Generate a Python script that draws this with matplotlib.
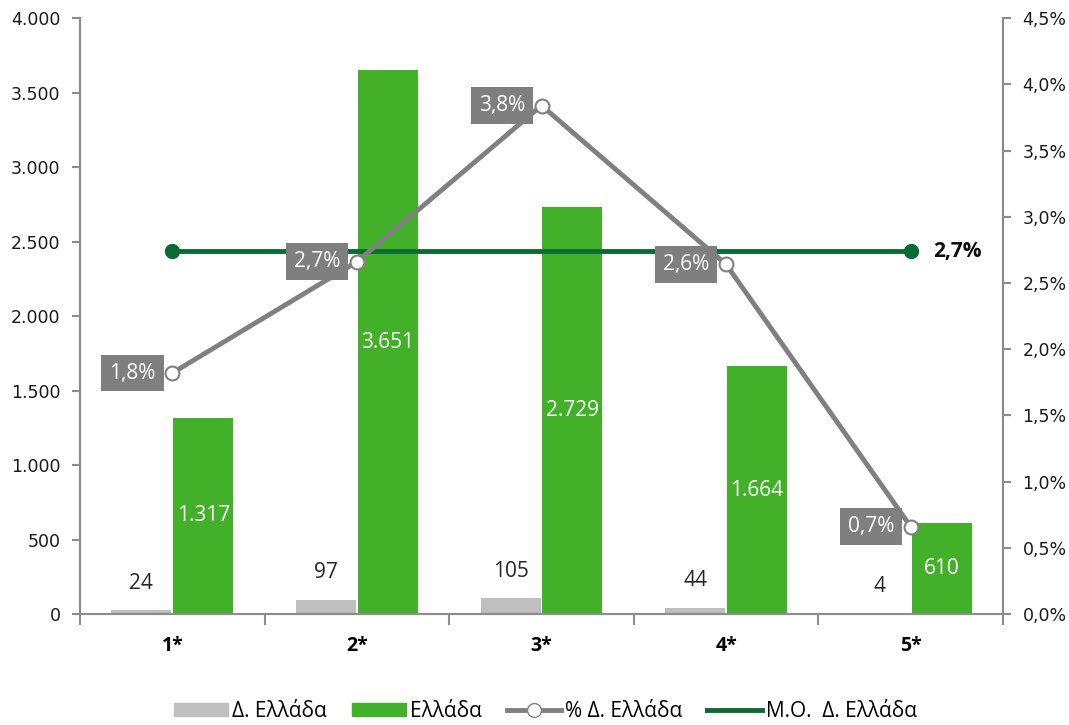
import matplotlib.pyplot as plt
import numpy as np
from matplotlib.patches import Patch
from matplotlib.lines import Line2D

categories = ["1*", "2*", "3*", "4*", "5*"]
d_ellada = [24, 97, 105, 44, 4]
ellada = [1317, 3651, 2729, 1664, 610]
pct_d_ellada = [1.82, 2.66, 3.84, 2.64, 0.66]
avg_pct = 2.74

GRAY_BAR = "#bfbfbf"
GREEN_BAR = "#43b02a"
LINE_GRAY = "#808080"
DARK_GREEN = "#0a6b32"
AXIS_GRAY = "#8c8c8c"

label_font = ["Open Sans", "DejaVu Sans"]
plt.rcParams["font.family"] = ["DejaVu Sans"]


def thousands(v):
    return f"{v:,.0f}".replace(",", ".")


def pct(v):
    return f"{v:.1f}%".replace(".", ",")


fig = plt.figure(figsize=(10.69, 7.25), dpi=100)
ax = fig.add_axes([0.0748, 0.153, 0.8635, 0.822])
ax2 = ax.twinx()

x = np.arange(len(categories))
w = 0.325
b1 = ax.bar(x - w / 2 - 0.005, d_ellada, w, color=GRAY_BAR, zorder=2)
b2 = ax.bar(x + w / 2 + 0.005, ellada, w, color=GREEN_BAR, zorder=2)

ax.set_xlim(-0.5, len(categories) - 0.5)
ax.set_ylim(0, 4000)
ax.set_yticks(np.arange(0, 4001, 500))
ax.set_yticklabels([thousands(v) for v in np.arange(0, 4001, 500)])
ax2.set_ylim(0, 4.5)
ax2.set_yticks(np.arange(0, 4.51, 0.5))
ax2.set_yticklabels([pct(v) for v in np.arange(0, 4.51, 0.5)])

for a in (ax, ax2):
    a.spines["top"].set_visible(False)
    for s in ("left", "right", "bottom"):
        a.spines[s].set_color(AXIS_GRAY)
        a.spines[s].set_linewidth(1.5)
    a.tick_params(axis="y", colors=AXIS_GRAY, labelcolor="#1a1a1a",
                  labelsize=12.5, length=6, width=1.5, pad=8)

ax.set_xticks(x)
ax.set_xticklabels(categories, fontsize=14, fontweight="bold", family=label_font)
ax.tick_params(axis="x", length=0, pad=16)
ax.set_xticks(np.arange(-0.5, len(categories), 1), minor=True)
ax.tick_params(axis="x", which="minor", length=8, width=1.5, color=AXIS_GRAY)

# bar labels
for rect, v in zip(b1, d_ellada):
    ax.annotate(str(v), (rect.get_x() + rect.get_width() / 2, rect.get_height()),
                xytext=(0, 12), textcoords="offset points", ha="center", va="bottom",
                fontsize=15, color="#262626", family=label_font)
for rect, v in zip(b2, ellada):
    ax.text(rect.get_x() + rect.get_width() / 2, rect.get_height() / 2, thousands(v),
            ha="center", va="center", fontsize=15, color="white", family=label_font)

# lines
ax2.plot(x, pct_d_ellada, color=LINE_GRAY, lw=3.5, marker="o", ms=10,
         mfc="white", mec=LINE_GRAY, mew=1.5, zorder=4)
ax2.plot([x[0], x[-1]], [avg_pct, avg_pct], color=DARK_GREEN, lw=3.5,
         marker="o", ms=10, mfc=DARK_GREEN, mec=DARK_GREEN, zorder=3)

for xi, v in zip(x, pct_d_ellada):
    ax2.annotate(pct(v), (xi, v), xytext=(-12, 0), textcoords="offset points",
                 ha="right", va="center", fontsize=15, color="white", family=label_font,
                 bbox=dict(boxstyle="square,pad=0.38", fc="#7f7f7f", ec="none"), zorder=5)
ax2.annotate(pct(avg_pct), (x[-1], avg_pct), xytext=(16, 0), textcoords="offset points",
             ha="left", va="center", fontsize=15, fontweight="bold", color="#0d0d0d",
             family=label_font)

ax2.set_zorder(ax.get_zorder() + 1)
ax2.patch.set_visible(False)

handles = [
    Patch(color=GRAY_BAR),
    Patch(color=GREEN_BAR),
    Line2D([], [], color=LINE_GRAY, lw=3.5, marker="o", ms=10, mfc="white", mec=LINE_GRAY),
    Line2D([], [], color=DARK_GREEN, lw=3.5),
]
labels = ["Δ. Ελλάδα", "Ελλάδα", "% Δ. Ελλάδα", "Μ.Ο.  Δ. Ελλάδα"]
fig.legend(handles, labels, loc="lower center", bbox_to_anchor=(0.51, -0.022), ncol=4,
           frameon=False, handlelength=2.6, handleheight=0.6, columnspacing=1.2,
           handletextpad=0.2, prop={"family": label_font, "size": 15})

fig.savefig("out.png", dpi=100)
